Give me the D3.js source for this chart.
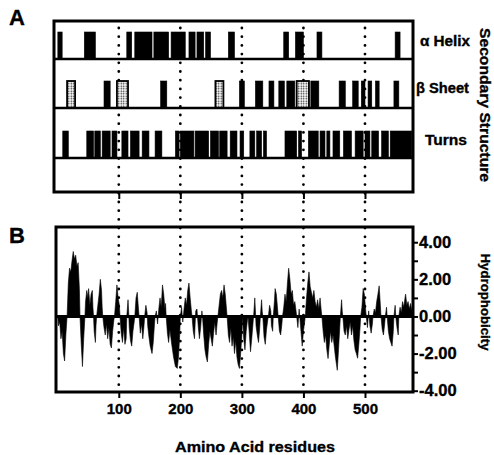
<!DOCTYPE html>
<html>
  <head>
    <meta charset="utf-8">
    <script src="https://cdn.jsdelivr.net/npm/d3@7"></script>
    <style>
      body { margin: 0; background: white; }
      svg { display: block; }
      text { font-family: "Liberation Sans", Arial, sans-serif; font-weight: bold; fill: black;
        stroke: black; stroke-width: 0.35px; }
    </style>
  </head>
  <body>
    <script>
      // residue ticks and hydrophobicity ticks
      const ticksX = [100, 200, 300, 400, 500]
      const ticksY = [-4, -3, -2, -1, 0, 1, 2, 3, 4]
      const rowNames = ['α Helix', 'β Sheet', 'Turns']

      // secondary structure segments [from, to] in residues
      const helix = [[1, 8], [44, 62], [113, 121], [126, 154], [157, 181], [185, 208], [214, 224],
        [227, 238], [241, 249], [278, 288], [368, 376], [387, 400], [422, 430], [549, 557]]
      const sheet = [[76, 86], [168, 178], [296, 304], [322, 334], [344, 352], [360, 369], [373, 386],
        [412, 425], [458, 468], [480, 489], [494, 500], [505, 511], [517, 523], [547, 555]]
      const sheetDotted = [[16, 29], [97, 115], [257, 270], [389, 409]]
      const turns = [[9, 18], [48, 59], [61, 70], [73, 86], [89, 97], [105, 115], [119, 133], [138, 149],
        [159, 170], [192, 198], [200, 222], [224, 246], [249, 262], [264, 276], [281, 292], [297, 303],
        [313, 321], [324, 332], [335, 340], [370, 389], [392, 397], [408, 424], [427, 435], [438, 443],
        [448, 459], [465, 478], [484, 497], [500, 508], [511, 522], [527, 538], [541, 576]]

      // hydrophobicity profile [residue, value]
      const hydro = [
        [1, 0], [2, -0.5], [4, -0.3], [6, -1.2], [8, -0.8], [10, -2.0], [12, -2.4], [14, -1.0], [16, 0],
        [18, 1.8], [20, 2.6], [22, 2.4], [24, 3.0], [26, 3.5], [28, 3.1], [30, 3.3], [32, 2.7], [34, 2.9],
        [36, 1.5], [37, 0], [39, -1.5], [41, -2.7], [43, -1.2], [45, 0],
        [46, 0.8], [48, 1.4], [50, 1.0], [51, 1.5], [53, 0.6], [55, 1.2], [57, 1.4], [58, 0.5], [59, 0],
        [60, -0.8], [62, -1.4], [63, -0.5], [64, 0], [66, 0.6], [68, 1.2], [70, 2.0], [72, 1.4], [73, 0.5],
        [74, 0], [76, -0.6], [78, -1.0], [80, -0.4], [82, -1.2], [84, -0.6], [86, -1.5], [88, -1.7],
        [90, -0.8], [92, -0.2], [93, 0], [95, 0.8], [97, 1.7], [99, 1.0], [101, 0.6], [102, 0],
        [104, -0.9], [106, -1.4], [108, -0.6], [110, -1.5], [112, -1.2], [113, 0], [115, 0.9], [116, 0.3],
        [117, -0.6], [119, -1.3], [121, -1.6], [123, -0.8], [125, -0.3], [126, 0], [128, 1.0], [130, 1.3],
        [132, 0.4], [133, 0], [135, -0.9], [137, -0.4], [139, -1.2], [141, -0.5], [142, 0], [144, 0.6],
        [146, 0.2], [147, -0.5], [149, -1.1], [151, -1.6], [154, -2.0], [156, -1.4], [158, -0.4], [159, 0],
        [161, 0.3], [163, -0.4], [165, 0.4], [167, 1.0], [169, 0.5], [171, 1.7], [173, 1.2], [175, 0.4],
        [176, 0.7], [177, 0], [179, -0.9], [181, -1.4], [183, -0.7], [186, -1.5], [189, -2.2], [192, -2.7],
        [195, -2.8], [197, -2.2], [199, -1.0], [200, 0],
        [202, 0.5], [204, -0.3], [206, 0.4], [208, 1.0], [210, 0.6], [212, 1.4], [214, 1.8], [216, 1.0],
        [218, 0.3], [219, 0], [221, -0.8], [223, -1.2], [225, 0.3], [227, 0.4], [229, -0.5], [231, -1.2],
        [233, -0.6], [235, 0.3], [236, 0], [238, -1.0], [240, -1.8], [242, -2.2], [244, -2.45], [246, -1.5],
        [248, -0.8], [250, -1.2], [252, -1.6], [254, -0.9], [256, -0.3], [258, -1.0], [260, -0.3], [261, 0],
        [263, 0.6], [265, 1.2], [267, 1.4], [269, 1.0], [271, 1.7], [273, 1.2], [275, 0.4], [276, 0],
        [278, -1.0], [280, -1.4], [282, -0.6], [284, -1.6], [286, -1.1], [288, -2.0], [290, -1.3],
        [292, -2.2], [294, -2.6], [296, -2.8], [298, -2.0], [300, -1.0], [301, 0],
        [303, -1.2], [305, -1.8], [307, -0.8], [309, -0.2], [310, 0], [312, -0.9], [314, -1.9], [316, -1.2],
        [318, -0.4], [319, 0], [321, 1.0], [322, 0.3], [323, -0.5], [325, -1.0], [327, -1.4], [329, -0.6],
        [330, 0], [332, 0.9], [333, 0.3], [334, 0], [336, -1.1], [338, -1.5], [340, -0.7], [342, -0.2],
        [343, 0], [345, 0.6], [347, 0.3], [348, -0.5], [350, -0.8], [351, 0], [353, 0.9], [354, 1.5],
        [356, 1.2], [358, 0.4], [359, 0], [361, -0.8], [363, -1.0], [365, -0.4], [366, 0], [368, 0.5],
        [370, 1.2], [372, 0.8], [374, 1.8], [376, 2.6], [378, 2.0], [380, 1.2], [382, 1.4], [384, 0.6],
        [386, 0.8], [388, 0.3], [389, 0], [391, -0.6], [393, 0.4], [394, 0], [396, -0.8], [398, -1.6],
        [400, -0.8], [402, -0.3], [403, 0],
        [405, 1.0], [407, 1.8], [409, 2.4], [411, 1.6], [413, 1.3], [415, 1.0], [417, 1.4], [419, 0.8],
        [421, 0.5], [423, 0.9], [425, 0.4], [427, 1.0], [429, 0.3], [430, 0], [432, -0.8], [434, -1.4],
        [436, -1.0], [438, -1.8], [440, -2.27], [442, -1.5], [444, -0.8], [446, -1.4], [448, -1.0],
        [450, -1.6], [452, -2.2], [455, -2.9], [457, -1.8], [459, -0.6], [460, 0], [462, 0.9], [463, 0.3],
        [464, 0], [466, -0.8], [468, -1.0], [470, -0.5], [472, -1.2], [474, -0.7], [476, -0.3], [478, -1.0],
        [480, -0.5], [482, -1.3], [484, -1.8], [486, -2.0], [488, -2.25], [490, -1.5], [492, -0.6], [493, 0],
        [495, 0.5], [497, 1.5], [499, 1.2], [501, 0.4], [502, 0],
        [504, -0.6], [506, 0.3], [508, -0.5], [510, -0.9], [512, -0.4], [513, 0], [515, 0.4], [517, 0.2],
        [519, 0.8], [521, 1.2], [523, 1.65], [525, 0.6], [526, 0], [528, -0.7], [530, -1.0], [532, -0.4],
        [533, 0], [535, 0.5], [536, 0], [538, -0.8], [540, -1.2], [542, -1.4], [544, -1.6], [546, -0.8],
        [547, 0], [549, 0.6], [550, 0], [552, -0.6], [554, -1.0], [555, 0], [557, 0.5], [559, 0.2],
        [561, 0.8], [563, 0.5], [565, 1.0], [566, 1.2], [568, 0.6], [570, 0.8], [572, 0.4], [574, 0.7],
        [576, 0.3], [577, 0.5]
      ]

      const svg = d3.select('body').append('svg')
        .attr('width', 494).attr('height', 455)

      const defs = svg.append('defs')
      const pat = defs.append('pattern').attr('id', 'dots')
        .attr('width', 2.5).attr('height', 2.5).attr('patternUnits', 'userSpaceOnUse')
      pat.append('rect').attr('width', 2.5).attr('height', 2.5).attr('fill', 'white')
      pat.append('circle').attr('cx', 1.25).attr('cy', 1.25).attr('r', 0.75).attr('fill', '#222')

      const x = d3.scaleLinear().domain([-2, 578]).range([56, 413])
      const y = d3.scaleLinear().domain([-4.07, 4.82]).range([392, 227])

      // panel A rows: bottom edge of each band
      const rowBottom = d3.scaleOrdinal().domain(rowNames.concat(['empty'])).range([59, 108, 158, 192])
      const barH = 27

      // dotted guide lines
      svg.append('g').selectAll('line').data(ticksX).join('line')
        .attr('x1', d => x(d)).attr('x2', d => x(d))
        .attr('y1', 28).attr('y2', 392)
        .attr('stroke', 'black').attr('stroke-width', 2.8)
        .attr('stroke-linecap', 'round').attr('stroke-dasharray', '0 8.7')

      function bars(data, row, fill) {
        svg.append('g').selectAll('rect').data(data).join('rect')
          .attr('x', d => x(d[0]))
          .attr('width', d => x(d[1]) - x(d[0]))
          .attr('y', rowBottom(row) - barH)
          .attr('height', barH)
          .attr('fill', fill)
          .attr('stroke', 'black').attr('stroke-width', fill === 'black' ? 0.6 : 1.8)
      }
      bars(helix, 'α Helix', 'black')
      bars(sheet, 'β Sheet', 'black')
      bars(sheetDotted, 'β Sheet', 'url(#dots)')
      bars(turns, 'Turns', 'black')

      // panel A frame and dividers
      svg.append('rect').attr('x', 54).attr('y', 21).attr('width', 413 - 54).attr('height', 192 - 21)
        .attr('fill', 'none').attr('stroke', 'black').attr('stroke-width', 3)
      svg.append('g').selectAll('line').data(rowNames).join('line')
        .attr('x1', 54).attr('x2', 413)
        .attr('y1', d => rowBottom(d)).attr('y2', d => rowBottom(d))
        .attr('stroke', 'black').attr('stroke-width', 2.4)

      svg.append('g').attr('transform', 'translate(0,192)')
        .call(d3.axisBottom(x).tickValues(ticksX).tickSize(7).tickFormat(''))
        .call(g => g.select('.domain').remove())
        .selectAll('line').attr('stroke-width', 2)

      // row labels
      const labelPos = { 'α Helix': [420, 46, 50], 'β Sheet': [416, 93, 53], 'Turns': [425, 145, 42] }
      svg.append('g').selectAll('text').data(rowNames).join('text')
        .attr('x', d => labelPos[d][0]).attr('y', d => labelPos[d][1])
        .attr('textLength', d => labelPos[d][2]).attr('lengthAdjust', 'spacingAndGlyphs')
        .attr('font-size', 14).text(d => d)

      svg.append('text').attr('transform', 'translate(480,105) rotate(90)')
        .attr('text-anchor', 'middle').attr('font-size', 15)
        .attr('textLength', 154).attr('lengthAdjust', 'spacingAndGlyphs')
        .text('Secondary Structure')

      // panel B
      const area = d3.area().x(d => x(d[0])).y0(y(0)).y1(d => y(d[1]))
      svg.append('path').datum(hydro).attr('d', area)
        .attr('fill', 'black').attr('stroke', 'black').attr('stroke-width', 0.6)
        .attr('stroke-linejoin', 'miter')

      svg.append('line').attr('x1', 56).attr('x2', 413).attr('y1', y(0)).attr('y2', y(0))
        .attr('stroke', 'black').attr('stroke-width', 3)

      svg.append('rect').attr('x', 56).attr('y', 227).attr('width', 413 - 56).attr('height', 392 - 227)
        .attr('fill', 'none').attr('stroke', 'black').attr('stroke-width', 3)

      svg.append('g').attr('transform', 'translate(0,392)')
        .call(d3.axisBottom(x).tickValues(ticksX).tickSize(6).tickPadding(5).tickFormat(d3.format('d')))
        .call(g => g.select('.domain').remove())
        .call(g => g.selectAll('line').attr('stroke-width', 2))
        .call(g => g.selectAll('text').attr('font-size', 15).attr('font-family', null))

      svg.append('g').attr('transform', 'translate(413,0)')
        .call(d3.axisRight(y).tickValues(ticksY).tickSize(5).tickPadding(1)
          .tickFormat(d => d % 2 === 0 ? d.toFixed(2) : ''))
        .call(g => g.select('.domain').remove())
        .call(g => g.selectAll('line').attr('stroke-width', 2))
        .call(g => g.selectAll('text').attr('font-size', 16.5).attr('font-family', null))

      svg.append('text').attr('transform', 'translate(481,302) rotate(90)')
        .attr('text-anchor', 'middle').attr('font-size', 13)
        .attr('textLength', 97).attr('lengthAdjust', 'spacingAndGlyphs')
        .text('Hydrophobicity')

      svg.append('text').attr('x', 255).attr('y', 452)
        .attr('text-anchor', 'middle').attr('font-size', 15)
        .attr('textLength', 160).attr('lengthAdjust', 'spacingAndGlyphs')
        .text('Amino Acid residues')

      svg.append('text').attr('x', 9).attr('y', 25).attr('font-size', 22).text('A')
      svg.append('text').attr('x', 9).attr('y', 243).attr('font-size', 22).text('B')
    </script>
  </body>
</html>
